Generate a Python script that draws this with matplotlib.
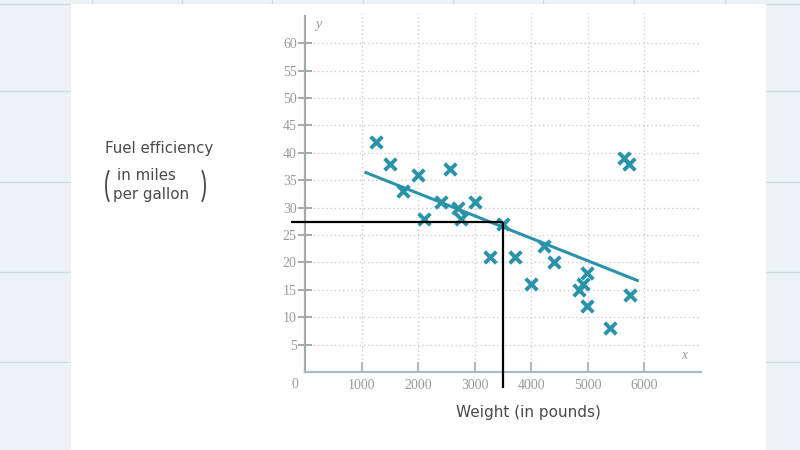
import matplotlib
matplotlib.use("Agg")
import matplotlib.pyplot as plt
from matplotlib.patches import Rectangle, Arc
from matplotlib.lines import Line2D

# ---- data ----
weights = [1250, 1500, 1730, 2000, 2100, 2400, 2570, 2700, 2750, 3000,
           3270, 3500, 3720, 4000, 4220, 4400, 4840, 4920, 4980, 4980,
           5400, 5640, 5730, 5750]
mpg = [42, 38, 33, 36, 28, 31, 37, 30, 28, 31,
       21, 27, 21, 16, 23, 20, 15, 16, 18, 12,
       8, 39, 38, 14]
fit_x = [1050, 5900]
fit_y = [36.5, 16.6]
guide_x = 3500
guide_y = 27.3
x_ticks = [1000, 2000, 3000, 4000, 5000, 6000]
y_ticks = [5, 10, 15, 20, 25, 30, 35, 40, 45, 50, 55, 60]

TEAL = "#2a93aa"
GRAYTXT = "#9a9a9a"
AXGRAY = "#a3aaad"
LABEL = "#4a4a4a"

fig = plt.figure(figsize=(8, 4.5), dpi=100)
fig.patch.set_facecolor("#eef1f8")

def fx(px):
    return px / 800.0

def fy(py):
    return 1 - py / 450.0

# background table lines
for yy in [91, 182, 272, 362]:
    fig.add_artist(Line2D([0, 1], [fy(yy), fy(yy)], transform=fig.transFigure,
                          color="#d3d9e3", lw=1, zorder=-3))
for xx in [92, 182, 272, 363, 453, 543, 634, 725]:
    fig.add_artist(Line2D([fx(xx), fx(xx)], [fy(0), fy(5)], transform=fig.transFigure,
                          color="#d3d9e3", lw=1, zorder=-3))
fig.add_artist(Line2D([0, 1], [fy(4), fy(4)], transform=fig.transFigure,
                      color="#d3d9e3", lw=1, zorder=-3))
# white panel
fig.add_artist(Rectangle((fx(71), fy(450)), fx(766) - fx(71), fy(4) - fy(450),
                         transform=fig.transFigure, facecolor="white",
                         edgecolor="none", zorder=-2))

# axes
x0, x1 = 305, 701
y0, y1 = 372, 15.8
ax = fig.add_axes([fx(x0), fy(y0), fx(x1) - fx(x0), fy(y1) - fy(y0)])
ax.set_zorder(1)
ax.set_facecolor("none")
ax.set_xlim(0, 7000)
ax.set_ylim(0, 65)

for s in ["top", "right"]:
    ax.spines[s].set_visible(False)
ax.spines["left"].set_color(AXGRAY)
ax.spines["left"].set_linewidth(1.6)
ax.spines["bottom"].set_color("#a7bcc1")
ax.spines["bottom"].set_linewidth(1.6)

ax.set_xticks(x_ticks)
ax.set_yticks(y_ticks)
ax.set_xticklabels([str(v) for v in x_ticks])
ax.set_yticklabels([str(v) for v in y_ticks])
ax.tick_params(axis="y", direction="inout", length=10, width=1.4, color=AXGRAY,
               labelsize=10, labelcolor=GRAYTXT, pad=1)
ax.tick_params(axis="x", direction="in", length=7, width=1.4, color="#a7bcc1",
               labelsize=10, labelcolor=GRAYTXT, pad=5)
for lab in ax.get_xticklabels() + ax.get_yticklabels():
    lab.set_fontfamily("Liberation Serif")

# grid
for v in y_ticks:
    ax.plot([0, 7000], [v, v], color="#c9ced1", lw=1, ls=(0, (1, 2)), zorder=1)
for v in x_ticks:
    ax.plot([v, v], [0, 65.5], color="#c9ced1", lw=1, ls=(0, (1, 2)), zorder=1,
            clip_on=False)

ax.text(-180, -2.2, "0", fontsize=10, family="Liberation Serif", color=GRAYTXT,
        ha="center", va="center")
ax.text(180, 63.5, "y", fontsize=10, family="Liberation Serif", style="italic",
        color=GRAYTXT, ha="left", va="center")
ax.text(6700, 3.0, "x", fontsize=10, family="Liberation Serif", style="italic",
        color=GRAYTXT, ha="center", va="center")

# fit line
ax.plot(fit_x, fit_y, color=TEAL, lw=2.2, zorder=3, solid_capstyle="butt")
# points
ax.scatter(weights, mpg, marker="x", s=70, linewidths=2.8, color=TEAL, zorder=4)

# guide lines
ax.plot([-240, guide_x], [guide_y, guide_y], color="black", lw=1.6, zorder=5,
        clip_on=False, solid_capstyle="butt")
ax.plot([guide_x, guide_x], [guide_y, -3.0], color="black", lw=1.6, zorder=5,
        clip_on=False, solid_capstyle="butt")

# left label
fig.text(fx(105), fy(148), "Fuel efficiency", fontsize=10.8, color=LABEL,
         ha="left", va="center", family="DejaVu Sans")
fig.text(fx(117), fy(175), "in miles", fontsize=10.8, color=LABEL,
         ha="left", va="center", family="DejaVu Sans")
fig.text(fx(113), fy(195), "per gallon", fontsize=10.8, color=LABEL,
         ha="left", va="center", family="DejaVu Sans")
fig.add_artist(Arc((fx(114), fy(186)), fx(16), 40 / 450.0, theta1=100, theta2=260,
                   transform=fig.transFigure, color=LABEL, lw=1.3))
fig.add_artist(Arc((fx(197), fy(186)), fx(16), 40 / 450.0, theta1=-80, theta2=80,
                   transform=fig.transFigure, color=LABEL, lw=1.3))

fig.text(fx(528), fy(413), "Weight (in pounds)", fontsize=11, color=LABEL,
         ha="center", va="center", family="DejaVu Sans")

fig.savefig("out.png", dpi=100, facecolor=fig.get_facecolor())
